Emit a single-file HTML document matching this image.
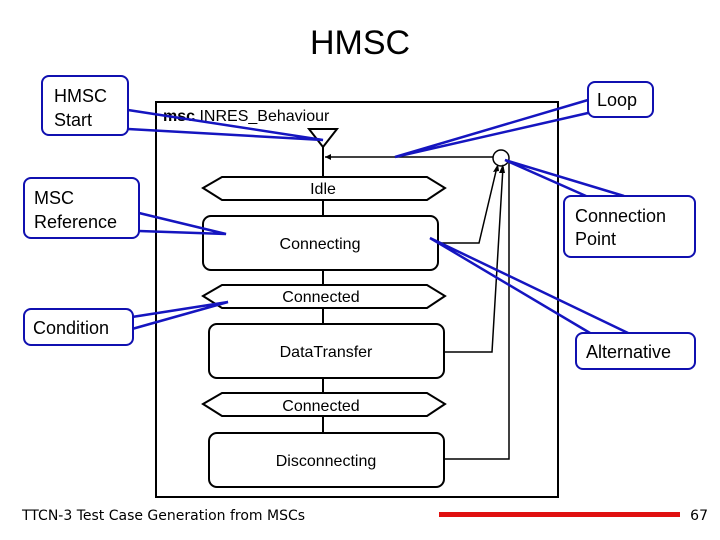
<!DOCTYPE html>
<html><head><meta charset="utf-8"><style>
html,body{margin:0;padding:0;background:#fff;}
svg{display:block;font-family:"Liberation Sans",sans-serif;}
</style></head><body>
<svg width="720" height="540" viewBox="0 0 720 540">
<text x="360" y="54" font-size="34" text-anchor="middle" fill="#000">HMSC</text>
<rect x="156" y="102" width="402" height="395" fill="none" stroke="#000" stroke-width="2"/>
<text x="163" y="121" font-size="16"><tspan font-weight="bold">msc</tspan> INRES_Behaviour</text>
<line x1="323" y1="147" x2="323" y2="433" stroke="#000" stroke-width="2"/>
<polygon points="309,129 337,129 323,147" fill="#fff" stroke="#000" stroke-width="2"/>
<line x1="325" y1="157" x2="493" y2="157" stroke="#000" stroke-width="1.5"/>
<polygon points="325,157 331,154 331,160" fill="#000"/>
<circle cx="501" cy="158" r="8" fill="#fff" stroke="#000" stroke-width="1.5"/>
<polyline points="509,160 509,459 444,459" fill="none" stroke="#000" stroke-width="1.5"/>
<polyline points="438,243 479,243 497,167" fill="none" stroke="#000" stroke-width="1.5"/>
<polygon points="498,164 493,172 499,171" fill="#000"/>
<polyline points="444,352 492,352 503,167" fill="none" stroke="#000" stroke-width="1.5"/>
<polygon points="503,164 499,173 505,173" fill="#000"/>
<g fill="#fff" stroke="#000" stroke-width="2">
<polygon points="203,188 222,177 427,177 445,188 427,200 222,200"/>
<rect x="203" y="216" width="235" height="54" rx="8"/>
<polygon points="203,296 222,285 427,285 445,296 427,308 222,308"/>
<rect x="209" y="324" width="235" height="54" rx="8"/>
<polygon points="203,404 222,393 427,393 445,404 427,416 222,416"/>
<rect x="209" y="433" width="235" height="54" rx="8"/>
</g>
<g font-size="16" text-anchor="middle" fill="#000">
<text x="323" y="194">Idle</text>
<text x="320" y="249">Connecting</text>
<text x="321" y="302">Connected</text>
<text x="326" y="357">DataTransfer</text>
<text x="321" y="411">Connected</text>
<text x="326" y="466">Disconnecting</text>
</g>
<g fill="none" stroke="#1515c0" stroke-width="2.5" stroke-linejoin="miter">
<polyline points="128,110 323,140 128,129"/>
<polyline points="588,100 395,157 588,113"/>
<polyline points="139,213 226,234 139,231"/>
<polyline points="132,317 228,302 132,329"/>
<polyline points="586,196 505,160 624,196"/>
<polyline points="590,333 430,238 628,333"/>
</g>
<g fill="#fff" stroke="#1010b0" stroke-width="2">
<rect x="42" y="76" width="86" height="59" rx="7"/>
<rect x="24" y="178" width="115" height="60" rx="7"/>
<rect x="24" y="309" width="109" height="36" rx="7"/>
<rect x="588" y="82" width="65" height="35" rx="7"/>
<rect x="564" y="196" width="131" height="61" rx="7"/>
<rect x="576" y="333" width="119" height="36" rx="7"/>
</g>
<g font-size="18" fill="#000">
<text x="54" y="102">HMSC</text><text x="54" y="126">Start</text>
<text x="34" y="204">MSC</text><text x="34" y="228">Reference</text>
<text x="33" y="334">Condition</text>
<text x="597" y="106">Loop</text>
<text x="575" y="222">Connection</text><text x="575" y="245">Point</text>
<text x="586" y="358">Alternative</text>
</g>
<text x="22" y="520" font-size="14" font-family="DejaVu Sans, sans-serif" fill="#000">TTCN-3 Test Case Generation from MSCs</text>
<rect x="439" y="512" width="241" height="5" fill="#e01010"/>
<text x="708" y="520" font-size="14" font-family="DejaVu Sans, sans-serif" text-anchor="end" fill="#000">67</text>
</svg>
</body></html>
